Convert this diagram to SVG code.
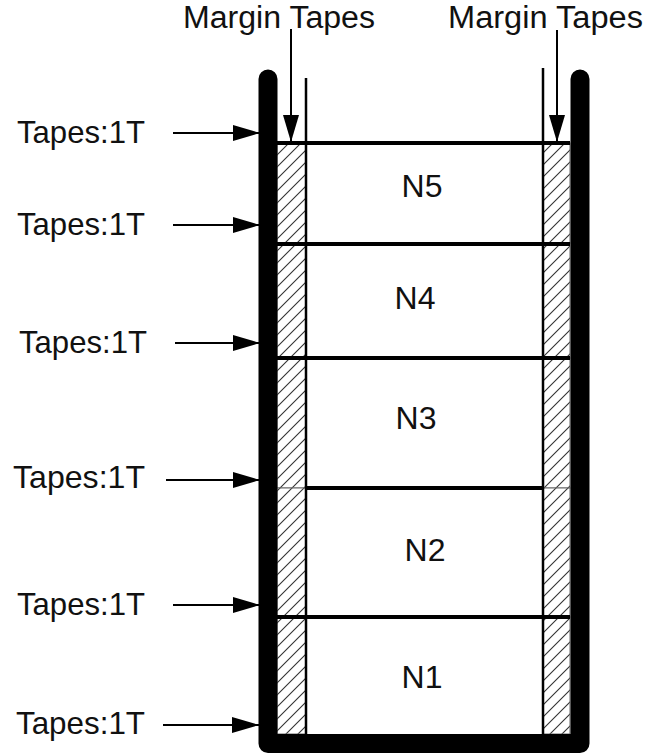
<svg xmlns="http://www.w3.org/2000/svg" width="659" height="755" viewBox="0 0 659 755">
<defs>
<style>
.lbl{font-family:"Liberation Sans",Arial,sans-serif;font-size:32px;fill:#111}
.mt{font-family:"Liberation Sans",Arial,sans-serif;font-size:31px;fill:#111}
.arr{stroke:#000;stroke-width:2;fill:none;marker-end:url(#ah)}
.hl{stroke:#000;stroke-width:4}
.thin{stroke:#000;stroke-width:2.5}
.hatch{fill:url(#hp);stroke:#666;stroke-width:1}
</style>
<marker id="ah" markerUnits="userSpaceOnUse" markerWidth="27" markerHeight="16" refX="27" refY="8" orient="auto">
<path d="M0,0 L27,8 L0,16 z" fill="#000"/>
</marker>
<pattern id="hp" patternUnits="userSpaceOnUse" width="12" height="12">
<rect width="12" height="12" fill="#fff"/>
<path d="M-3,15 L15,-3 M-9,9 L9,-9 M3,21 L21,3" stroke="#333" stroke-width="1.1"/>
</pattern>
</defs>
<rect width="659" height="755" fill="#fff"/>
<g id="hatch-left">
<rect class="hatch" x="277" y="143" width="29" height="100"/>
<rect class="hatch" x="277" y="243" width="29" height="115"/>
<rect class="hatch" x="277" y="358" width="29" height="130"/>
<rect class="hatch" x="277" y="488" width="29" height="129"/>
<rect class="hatch" x="277" y="617" width="29" height="117"/>
</g>
<g id="hatch-right">
<rect class="hatch" x="543" y="143" width="27" height="100"/>
<rect class="hatch" x="543" y="243" width="27" height="115"/>
<rect class="hatch" x="543" y="358" width="27" height="130"/>
<rect class="hatch" x="543" y="488" width="27" height="129"/>
<rect class="hatch" x="543" y="617" width="27" height="117"/>
</g>
<g id="container">
<path d="M268,79 L268,743.5 L580,743.5 L580,79" fill="none" stroke="#000" stroke-width="19" stroke-linecap="round" stroke-linejoin="round"/>
<line class="thin" x1="306" y1="78" x2="306" y2="734"/>
<line class="thin" x1="543" y1="68" x2="543" y2="734"/>
</g>
<g id="layers">
<line class="hl" x1="277" y1="143" x2="570" y2="143"/>
<line class="hl" x1="277" y1="244" x2="570" y2="244"/>
<line class="hl" x1="277" y1="358" x2="570" y2="358"/>
<line class="hl" x1="306" y1="488" x2="543" y2="488"/>
<line class="hl" x1="277" y1="617" x2="570" y2="617"/>
</g>
<g id="N5"><text class="lbl" x="422" y="197" text-anchor="middle">N5</text></g>
<g id="N4"><text class="lbl" x="415" y="309" text-anchor="middle">N4</text></g>
<g id="N3"><text class="lbl" x="416" y="429" text-anchor="middle">N3</text></g>
<g id="N2"><text class="lbl" x="425" y="561" text-anchor="middle">N2</text></g>
<g id="N1"><text class="lbl" x="422" y="688" text-anchor="middle">N1</text></g>
<g id="labels">
<text class="mt" x="183" y="28" textLength="192" lengthAdjust="spacingAndGlyphs">Margin Tapes</text>
<text class="mt" x="448" y="28" textLength="195" lengthAdjust="spacingAndGlyphs">Margin Tapes</text>
<text class="lbl" x="17" y="143" textLength="128" lengthAdjust="spacingAndGlyphs">Tapes:1T</text>
<text class="lbl" x="17" y="235" textLength="128" lengthAdjust="spacingAndGlyphs">Tapes:1T</text>
<text class="lbl" x="19" y="353" textLength="128" lengthAdjust="spacingAndGlyphs">Tapes:1T</text>
<text class="lbl" x="13" y="488" textLength="132" lengthAdjust="spacingAndGlyphs">Tapes:1T</text>
<text class="lbl" x="17" y="615" textLength="128" lengthAdjust="spacingAndGlyphs">Tapes:1T</text>
<text class="lbl" x="16" y="734" textLength="129" lengthAdjust="spacingAndGlyphs">Tapes:1T</text>
</g>
<g id="connectors">
<line class="arr" x1="291" y1="29" x2="291" y2="142"/>
<line class="arr" x1="557" y1="30" x2="557" y2="142"/>
<line class="arr" x1="173" y1="133" x2="260" y2="133"/>
<line class="arr" x1="173" y1="225" x2="260" y2="225"/>
<line class="arr" x1="175" y1="343" x2="260" y2="343"/>
<line class="arr" x1="166" y1="480" x2="260" y2="480"/>
<line class="arr" x1="173" y1="605" x2="260" y2="605"/>
<line class="arr" x1="163" y1="725" x2="259" y2="725"/>
</g>
</svg>
